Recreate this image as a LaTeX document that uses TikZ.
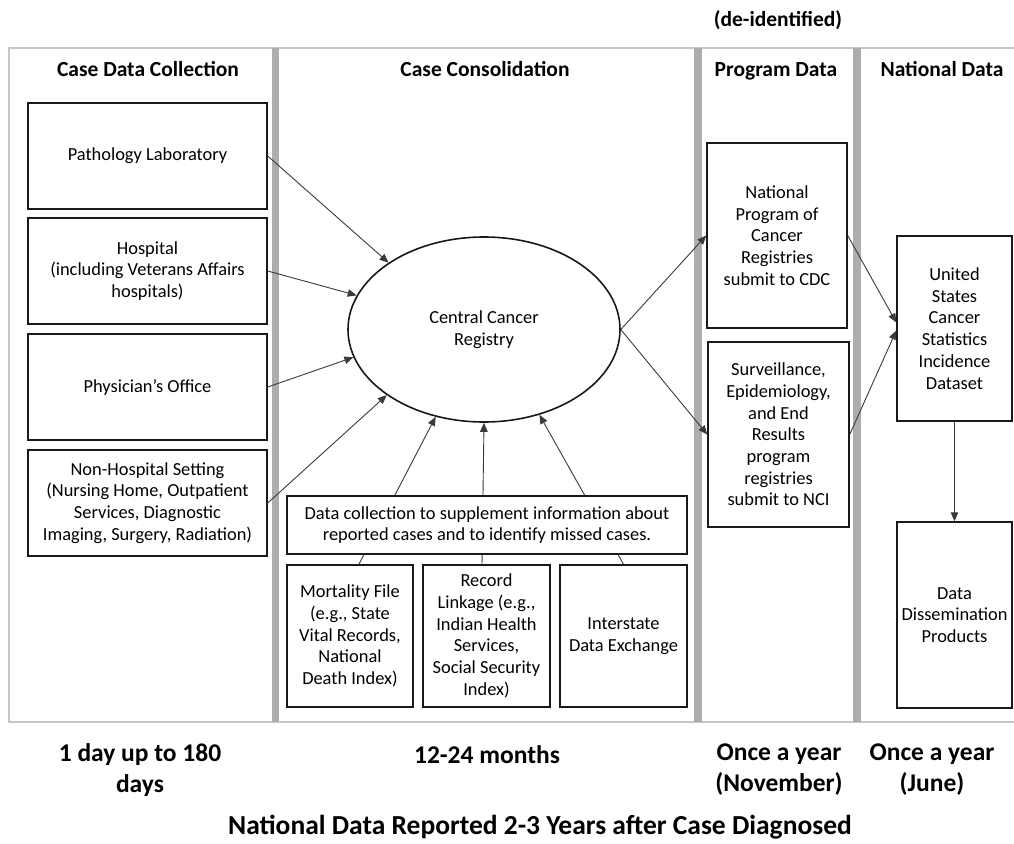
\documentclass[tikz,border=0pt]{standalone}
\usepackage{fontspec}
\setmainfont{Carlito}
\usepackage{tikz}
\usetikzlibrary{arrows.meta,positioning,shapes.geometric,calc}

\definecolor{framegray}{HTML}{C6C6C6}
\definecolor{bargray}{HTML}{ADADAD}
\definecolor{arrowgray}{HTML}{3A3A3A}

\begin{document}
\begin{tikzpicture}[x=1pt,y=-1pt,>={Triangle[length=9pt,width=7.5pt]},
  srcbox/.style={draw=black!90,line width=1.4pt,fill=white,align=center,inner sep=1pt,font=\fontsize{18.4}{21.7}\selectfont},
  colhead/.style={anchor=base,font=\fontsize{21.5}{26}\selectfont\bfseries},
  timelbl/.style={align=center,font=\fontsize{25.5}{31}\selectfont\bfseries},
  flow/.style={->,draw=arrowgray,line width=0.9pt}]
\useasboundingbox (0,0) rectangle (1014,843);
% frame and column bars
\draw[framegray,line width=1.5pt] (1014,48)--(9,48)--(9,722)--(1014,722);
\fill[bargray] (272,48) rectangle (279,722);
\fill[bargray] (694,48) rectangle (702,722);
\fill[bargray] (853,48) rectangle (861,722);
% column headers
\node[colhead] (hcol) at (148,76.5) {Case Data Collection};
\node[colhead] (hcons) at (485,76.5) {Case Consolidation};
\node[colhead] (hprog) at (776,76.5) {Program Data};
\node[colhead] (hnat) at (942,76.5) {National Data};
\node[colhead] (hdeid) at (778,27) {(de-identified)};
% reporting sources
\node[srcbox,minimum width=239pt,minimum height=106pt] (path) at (147.5,156) {Pathology Laboratory};
\node[srcbox,minimum width=239pt,minimum height=106pt] (hosp) at (147.5,271) {Hospital\\(including Veterans Affairs\\hospitals)};
\node[srcbox,minimum width=239pt,minimum height=106pt] (phys) at (147.5,387) {Physician’s Office};
\node[srcbox,minimum width=239pt,minimum height=106pt] (nonh) at (147.5,503) {Non-Hospital Setting\\(Nursing Home, Outpatient\\Services, Diagnostic\\Imaging, Surgery, Radiation)};
% registry
\node[draw=black!90,ellipse,line width=1.6pt,fill=white,minimum width=272pt,minimum height=185pt,inner sep=0pt,align=center,font=\fontsize{18.4}{21.7}\selectfont] (ccr) at (484,329.5) {Central Cancer\\Registry};
\draw[flow] (path.east)--(ccr.145);
\draw[flow] (hosp.east)--(ccr.165);
\draw[flow] (phys.east)--(ccr.192);
\draw[flow] (nonh.east)--(ccr.214);
% supplementary sources
\node[srcbox,minimum width=126pt,minimum height=142pt] (mort) at (350,636) {Mortality File\\(e.g., State\\Vital Records,\\National\\Death Index)};
\node[srcbox,minimum width=127pt,minimum height=142pt] (reclink) at (486.5,636) {Record\\Linkage (e.g.,\\Indian Health\\Services,\\Social Security\\Index)};
\node[srcbox,minimum width=127pt,minimum height=142pt] (inter) at (623.5,636) {Interstate\\Data Exchange};
\draw[flow] ($(mort.north west)!0.57!(mort.north east)$)--(ccr.241);
\draw[flow] ($(reclink.north west)!0.465!(reclink.north east)$)--(ccr.270);
\draw[flow] (inter.north)--(ccr.303);
\node[srcbox,minimum width=400pt,minimum height=58pt] (dcoll) at (487,525) {Data collection to supplement information about\\reported cases and to identify missed cases.};
% program and national data
\node[srcbox,minimum width=140pt,minimum height=185pt] (npcr) at (777,235.5) {National\\Program of\\Cancer\\Registries\\submit to CDC};
\node[srcbox,minimum width=141pt,minimum height=185pt] (seer) at (778.5,434.5) {Surveillance,\\Epidemiology,\\and End\\Results\\program\\registries\\submit to NCI};
\node[srcbox,minimum width=115pt,minimum height=185pt] (uscs) at (954.5,328.5) {United\\States\\Cancer\\Statistics\\Incidence\\Dataset};
\node[srcbox,minimum width=115pt,minimum height=186pt] (ddp) at (954.5,615) {Data\\Dissemination\\Products};
\draw[flow] (ccr.0)--(npcr.west);
\draw[flow] (ccr.0)--(seer.west);
\draw[flow] (npcr.east)--($(uscs.west)+(0,-6)$);
\draw[flow] (seer.east)--($(uscs.west)+(0,2)$);
\draw[flow] (uscs.south)--(ddp.north);
% timing
\node[timelbl] (tcol) at (140,770) {1 day up to 180\\days};
\node[timelbl] (tcons) at (487,755) {12-24 months};
\node[timelbl] (tprog) at (779,770) {Once a year\\(November)};
\node[timelbl] (tnat) at (932,770) {Once a year\\(June)};
\node[font=\fontsize{27.5}{33}\selectfont\bfseries] (title) at (540,827) {National Data Reported 2-3 Years after Case Diagnosed};
\end{tikzpicture}
\end{document}
